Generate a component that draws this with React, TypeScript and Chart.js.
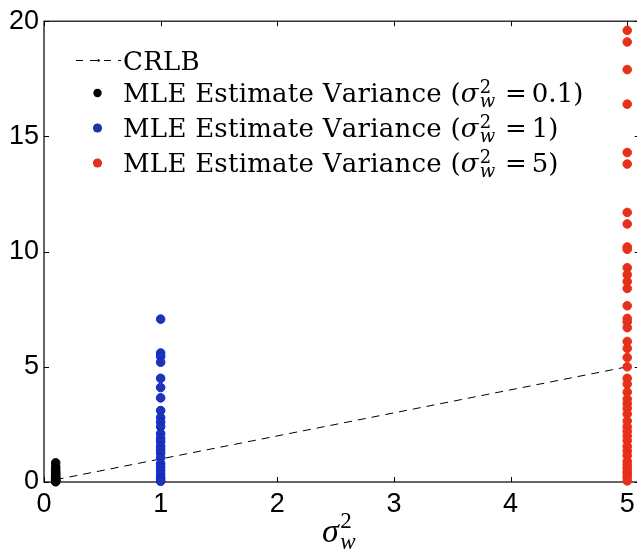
import React, { useEffect, useRef } from 'react';
import { Chart, registerables } from 'chart.js';

Chart.register(...registerables);

// ---- data ----
const noiseVariances = [0.1, 1, 5];
const crlbX = [0.1, 1, 5];
const crlbY = [0.1, 1, 5];
const varLow = [0.83, 0.66, 0.55, 0.45, 0.38, 0.31, 0.25, 0.19, 0.14, 0.1, 0.06, 0.03, 0.01];
const varMid = [7.07, 5.6, 5.45, 5.2, 4.5, 4.1, 3.65, 3.1, 2.8, 2.6, 2.4, 2.1, 1.9, 1.75, 1.55, 1.4, 1.25, 1.05, 0.8, 0.65, 0.5, 0.35, 0.2, 0.1, 0.03];
const varHigh = [19.6, 19.1, 17.9, 16.4, 14.3, 13.8, 11.7, 11.2, 10.2, 10.1, 9.3, 9.0, 8.7, 8.4, 7.65, 7.1, 6.95, 6.7, 6.1, 5.8, 5.4, 5.0, 4.5, 4.25, 3.9, 3.6, 3.4, 3.2, 2.95, 2.65, 2.4, 2.2, 2.0, 1.8, 1.55, 1.35, 1.15, 0.9, 0.75, 0.6, 0.45, 0.35, 0.2, 0.05];
const xTicks = [0, 1, 2, 3, 4, 5];
const yTicks = [0, 5, 10, 15, 20];
const crlbLabel = 'CRLB';
const seriesLabel = 'MLE Estimate Variance';
const fillColors = ['#000000', '#1d36a8', '#e2311d'];
const edgeColors = ['#000000', '#1020f0', '#f52a12'];

const SERIF = '"DejaVu Serif", "Liberation Serif", serif';
const TITLE_SERIF = '"Liberation Serif", "DejaVu Serif", serif';
const SANS = '"Liberation Sans", Arial, sans-serif';

// draw text char by char with small extra tracking, return end x
function drawSpaced(ctx: CanvasRenderingContext2D, text: string, x: number, y: number, track: number): number {
  for (const ch of text) {
    ctx.fillText(ch, x, y);
    x += ctx.measureText(ch).width + track;
  }
  return x;
}

function drawSigma(ctx: CanvasRenderingContext2D, family: string, x: number, base: number, size: number, supRise: number, subDrop: number): number {
  ctx.font = `italic ${size}px ${family}`;
  ctx.fillText('σ', x, base);
  x += ctx.measureText('σ').width + size * 0.04;
  const small = Math.round(size * 0.68);
  ctx.font = `${small}px ${family}`;
  ctx.fillText('2', x, base - size * supRise);
  const w2 = ctx.measureText('2').width;
  ctx.font = `italic ${small}px ${family}`;
  ctx.fillText('w', x, base + size * subDrop);
  const ww = ctx.measureText('w').width;
  return x + Math.max(w2, ww);
}

const decorPlugin = {
  id: 'decor',
  beforeDatasetsDraw(chart: any) {
    const { ctx, chartArea } = chart;
    const { left, right, top, bottom } = chartArea;
    const xs = chart.scales.x;
    const ys = chart.scales.y;
    ctx.save();
    ctx.strokeStyle = '#000';
    ctx.lineWidth = 1.2;
    ctx.strokeRect(left, top, right - left, bottom - top);
    ctx.lineWidth = 1;
    const tl = 5;
    ctx.beginPath();
    xTicks.forEach((t) => {
      const px = Math.round(xs.getPixelForValue(t)) + 0.5;
      ctx.moveTo(px, bottom);
      ctx.lineTo(px, bottom - tl);
      ctx.moveTo(px, top);
      ctx.lineTo(px, top + tl);
    });
    yTicks.forEach((t) => {
      const py = Math.round(ys.getPixelForValue(t)) + 0.5;
      ctx.moveTo(left, py);
      ctx.lineTo(left + tl, py);
      ctx.moveTo(right, py);
      ctx.lineTo(right - tl, py);
    });
    ctx.stroke();
    ctx.restore();
  },
  afterDraw(chart: any) {
    const { ctx } = chart;
    ctx.save();
    ctx.fillStyle = '#000';
    ctx.textBaseline = 'alphabetic';
    ctx.textAlign = 'left';
    // axis title
    drawSigma(ctx, TITLE_SERIF, 322, 542, 34, 0.4, 0.2);

    // legend
    const size = 26;
    const textX = 123;
    const baselines = [70, 101.5, 136.5, 171.5];
    const track = 0.25;
    // CRLB sample
    ctx.strokeStyle = '#000';
    ctx.lineWidth = 1;
    ctx.setLineDash([7, 7]);
    ctx.beginPath();
    ctx.moveTo(76, 60.5);
    ctx.lineTo(121, 60.5);
    ctx.stroke();
    ctx.setLineDash([]);
    ctx.beginPath();
    ctx.arc(98.5, 60.5, 1.3, 0, Math.PI * 2);
    ctx.fill();
    ctx.font = `${size}px ${SERIF}`;
    drawSpaced(ctx, crlbLabel, textX, baselines[0], track);

    noiseVariances.forEach((v, i) => {
      const base = baselines[i + 1];
      ctx.fillStyle = fillColors[i];
      ctx.beginPath();
      ctx.arc(97.5, base - 8.5, i === 0 ? 4.2 : 4.6, 0, Math.PI * 2);
      ctx.fill();
      ctx.fillStyle = '#000';
      ctx.font = `${size}px ${SERIF}`;
      let x = drawSpaced(ctx, seriesLabel + ' (', textX, base, track);
      x = drawSigma(ctx, SERIF, x, base, size, 0.32, 0.22);
      ctx.font = `${size}px ${SERIF}`;
      x += 10;
      ctx.fillText('=', x, base);
      x += ctx.measureText('=').width + 5;
      x = drawSpaced(ctx, String(v), x, base, 0);
      ctx.fillText(')', x, base);
    });
    ctx.restore();
  },
};

export default function App() {
  const ref = useRef<HTMLCanvasElement | null>(null);
  useEffect(() => {
    if (!ref.current) return;
    const series = [varLow, varMid, varHigh];
    const pointSets = series.map((vals, i) => ({
      type: 'scatter' as const,
      label: seriesLabel,
      data: vals.map((y) => ({ x: noiseVariances[i], y })),
      backgroundColor: fillColors[i],
      borderColor: edgeColors[i],
      borderWidth: 1,
      pointRadius: 4.3,
      clip: false as const,
      order: 3 - i,
    }));
    const chart = new Chart(ref.current, {
      type: 'scatter',
      data: {
        datasets: [
          {
            type: 'line',
            label: crlbLabel,
            data: crlbX.map((x, i) => ({ x, y: crlbY[i] })),
            borderColor: '#000',
            borderWidth: 1,
            borderDash: [8, 6],
            pointRadius: 0,
            fill: false,
            order: 5,
          } as any,
          ...pointSets,
        ],
      },
      plugins: [decorPlugin],
      options: {
        responsive: false,
        animation: false,
        devicePixelRatio: 1,
        layout: { padding: { top: 21, right: 5, left: 0, bottom: 0 } },
        plugins: { legend: { display: false }, tooltip: { enabled: false } },
        scales: {
          x: {
            type: 'linear',
            min: 0,
            max: 5.107,
            afterFit: (s: any) => { s.height = 70; },
            afterBuildTicks: (s: any) => { s.ticks = xTicks.map((v) => ({ value: v })); },
            grid: { display: false, drawTicks: false },
            border: { display: false },
            ticks: {
              color: '#000',
              padding: 6,
              maxRotation: 0,
              font: { family: SANS, size: 27 },
            },
          },
          y: {
            type: 'linear',
            min: 0,
            max: 20,
            afterFit: (s: any) => { s.width = 44; },
            afterBuildTicks: (s: any) => { s.ticks = yTicks.map((v) => ({ value: v })); },
            grid: { display: false, drawTicks: false },
            border: { display: false },
            ticks: {
              color: '#000',
              padding: 5,
              font: { family: SANS, size: 27 },
            },
          },
        },
      },
    });
    return () => chart.destroy();
  }, []);
  return (
    <div style={{ position: 'fixed', left: 0, top: 0, width: 637, height: 552, overflow: 'hidden', background: '#fff' }}>
      <canvas ref={ref} width={645} height={552} style={{ display: 'block', width: 645, height: 552 }} />
    </div>
  );
}
